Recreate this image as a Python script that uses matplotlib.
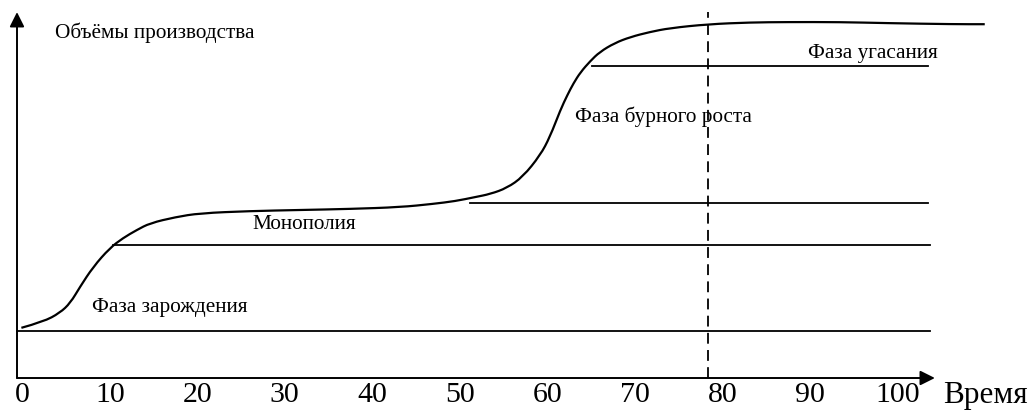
import matplotlib
matplotlib.use("Agg")
import matplotlib.pyplot as plt
from matplotlib.path import Path
from matplotlib.patches import PathPatch

plt.rcParams["font.family"] = ["Liberation Serif", "DejaVu Serif"]

# Production curve (time, volume)
curve_x = [0.5, 3.0, 4.9, 6.1, 7.2, 8.7, 10.6, 12.1, 13.7, 15.2, 18.1, 20.9, 26.6, 32.3,
           38.1, 43.8, 47.5, 50.1, 52.3, 54.1, 56.0, 57.8, 59.8, 60.9, 62.1, 62.9,
           63.6, 64.4, 65.5, 66.6, 68.3, 70.1, 72.3, 74.6, 79.0, 83.8, 88.0, 94.1,
           99.4, 107.0, 110.6]
curve_y = [14.1, 15.8, 18.3, 21.1, 25.6, 31.2, 36.5, 39.3, 41.6, 43.5, 45.2, 46.3, 46.9, 47.2,
           47.5, 48.0, 48.9, 49.7, 50.8, 51.7, 53.4, 56.5, 62.6, 67.7, 75.3, 79.5,
           82.8, 85.9, 89.0, 91.6, 94.1, 95.8, 97.2, 98.3, 99.4, 99.9, 100.0, 100.0,
           99.7, 99.4, 99.4]

# Phase boundary lines: level, start, end
level_y = [13.2, 37.4, 49.2, 87.6]
level_start = [0.0, 11.0, 51.8, 65.7]
level_end = [104.3, 104.3, 104.1, 104.1]

# Phase labels
phase_names = ["Фаза зарождения", "Монополия", "Фаза бурного роста", "Фаза угасания"]
phase_x = [8.6, 26.9, 63.8, 90.4]
phase_y = [19.9, 43.0, 73.3, 91.3]

ticks = [0, 10, 20, 30, 40, 50, 60, 70, 80, 90, 100]
marker_time = 79.0

fig = plt.figure(figsize=(10.32, 4.12), dpi=100)
ax = fig.add_axes([0, 0, 1, 1])
ax.set_xlim(-1.943, 116.0)
ax.set_ylim(-9.55, 106.2)
ax.axis("off")

# axes with arrows
arrow = dict(arrowstyle="-|>", color="black", lw=1.4, mutation_scale=22, shrinkA=0, shrinkB=0)
ax.annotate("", xy=(0, 102.8), xytext=(0, 0), arrowprops=arrow)
ax.annotate("", xy=(104.9, 0), xytext=(0, 0), arrowprops=arrow)

# smooth curve: quadratic pieces through midpoints
pts = list(zip(curve_x, curve_y))
verts = [pts[0]]
codes = [Path.MOVETO]
for i in range(1, len(pts) - 1):
    mid = ((pts[i][0] + pts[i + 1][0]) / 2, (pts[i][1] + pts[i + 1][1]) / 2)
    verts += [pts[i], mid]
    codes += [Path.CURVE3, Path.CURVE3]
verts.append(pts[-1])
codes.append(Path.LINETO)
ax.add_patch(PathPatch(Path(verts, codes), fill=False, edgecolor="black", lw=1.6))

for y, x0, x1 in zip(level_y, level_start, level_end):
    ax.plot([x0, x1], [y, y], color="black", lw=1.3)

ax.plot([marker_time, marker_time], [0, 102.8], color="black", lw=1.3,
        linestyle=(0, (6, 3.5)))

for name, x, y in zip(phase_names, phase_x, phase_y):
    ax.text(x, y, name, fontsize=15.3, ha="left", va="center")

ax.text(4.3, 96.9, "Объёмы производства", fontsize=15.3, ha="left", va="center")

for t in ticks:
    ax.text(t + 0.6, -4.9, str(t), fontsize=21.5, ha="center", va="center")
ax.text(105.8, -4.9, "Время", fontsize=22.5, ha="left", va="center")

fig.savefig("out.png", dpi=100)
